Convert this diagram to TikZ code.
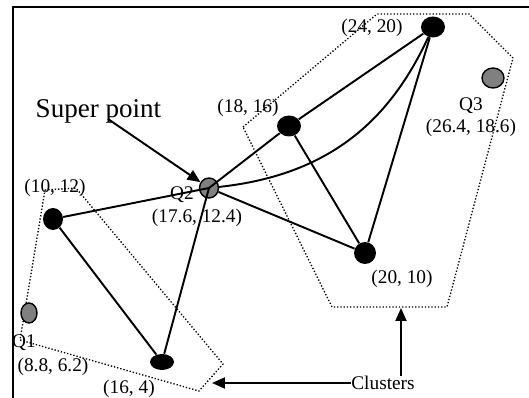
\documentclass[tikz,border=0pt]{standalone}
\usepackage{fontspec}
\setmainfont{Liberation Serif}
\usepackage{tikz}
\usetikzlibrary{calc, shapes.geometric, positioning, arrows.meta}

\tikzset{
    diem/.style={ellipse, fill=black, inner sep=0pt, minimum width=0.48cm, minimum height=0.42cm},
    diemQ/.style={ellipse, draw=black, line width=0.8pt, fill=gray, inner sep=0pt, minimum width=0.38cm, minimum height=0.40cm},
    nhan/.style={font=\fontsize{11}{12.6}\selectfont, inner sep=0pt, align=center},
    canh/.style={line width=1.1pt},
    cum/.style={line width=0.75pt, dash pattern=on 0.75pt off 1.1pt},
}

\begin{document}
\begin{tikzpicture}[>={Triangle[length=0.26cm, width=0.22cm]}]
    \useasboundingbox (0,0) rectangle (10.58,7.96);
    % Khung
    \draw[line width=1.1pt] (0.26,0) -- (0.26,7.82) -- (10.58,7.82);
    
    % Hai cụm (đường chấm)
    \draw[cum] (0.90,4.16) -- (1.52,4.20) -- (4.46,0.68) -- (3.98,0.14) -- (0.40,1.16) -- cycle;
    \draw[cum] (4.86,5.42) -- (7.54,7.68) -- (9.38,7.68) -- (10.26,6.80) -- (8.94,1.82) -- (6.64,1.82) -- cycle;
    
    % Các điểm
    \node[diem] (a24) at (8.66,7.42) {};
    \node[diem] (a18) at (5.78,5.44) {};
    \node[diem, minimum width=0.44cm, minimum height=0.44cm] (a20) at (7.30,2.90) {};
    \node[diem, minimum width=0.40cm, minimum height=0.44cm] (a10) at (1.06,3.58) {};
    \node[diem, minimum height=0.32cm] (a16) at (3.24,0.72) {};
    \node[diemQ, minimum width=0.32cm] (q1) at (0.58,1.70) {};
    \node[diemQ] (q2) at (4.18,4.20) {};
    \node[diemQ, minimum width=0.44cm] (q3) at (9.86,6.40) {};
    
    % Các cạnh
    \draw[canh] (a10) -- (q2.center);
    \draw[canh] (a10) -- (a16);
    \draw[canh] (a16) -- (q2.center);
    \draw[canh] (q2.center) -- (a18);
    \draw[canh] (a18) -- (a24);
    \draw[canh] (a18) -- (a20);
    \draw[canh] (q2) -- (a20);
    \draw[canh] (a24) -- (a20);
    \draw[canh] (q2) .. controls (6.6,4.46) and (7.8,5.56) .. (a24);
    
    % Nhãn toạ độ
    \node[nhan] (la24) at (7.44,7.40) {(24, 20)};
    \node[nhan] (la18) at (4.96,5.80) {(18, 16)};
    \node[nhan] (la20) at (8.04,2.38) {(20, 10)};
    \node[nhan] (la10) at (1.10,4.20) {(10, 12)};
    \node[nhan] (la16) at (2.58,0.18) {(16, 4)};
    \node[nhan] (lq1) at (0.48,1.10) {Q1};
    \node[nhan] (lq1b) at (1.06,0.62) {(8.8, 6.2)};
    \node[nhan] (lq2) at (3.64,4.06) {Q2};
    \node[nhan] (lq2b) at (3.94,3.60) {(17.6, 12.4)};
    \node[nhan] (lq3) at (9.42,5.62) {Q3\\(26.4, 18.6)};
    
    % Chú thích
    \node[font=\fontsize{15.4}{18}\selectfont, anchor=base, inner sep=0pt] (sp) at (1.97,5.60) {Super point};
    \coordinate (spchan) at (2.16,5.58);
    \draw[canh, ->] (spchan) -- (q2);
    
    \node[nhan] (cl) at (7.66,0.30) {Clusters};
    \coordinate (dinh1) at (4.24,0.32);
    \coordinate (dinh2) at (8.02,1.80);
    \draw[canh, ->] (cl.west) -- (cl.west -| dinh1);
    \draw[canh, ->] (cl.north -| dinh2) -- (dinh2);
\end{tikzpicture}
\end{document}
